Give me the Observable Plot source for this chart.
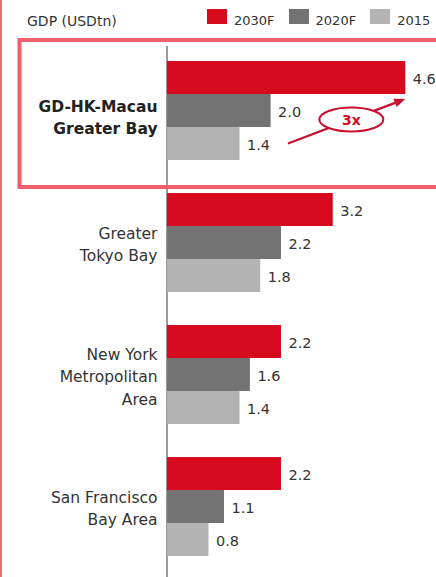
<!DOCTYPE html>
<html><head><meta charset="utf-8">
<script src="https://cdn.jsdelivr.net/npm/d3@7"></script>
<script src="https://cdn.jsdelivr.net/npm/@observablehq/plot@0.6"></script>
<style>
body{margin:0;background:#fff;}
#wrap{position:relative;width:436px;height:577px;overflow:hidden;font-family:"DejaVu Sans",sans-serif;color:#333;background:#fff;}
#edge{position:absolute;left:0;top:0;width:2px;height:577px;background:#e8707c;z-index:2;}
#legend{position:relative;height:34px;}
#legend .title{position:absolute;left:27px;top:14px;font-size:14px;line-height:14px;white-space:nowrap;}
#legend .items{position:absolute;left:207px;top:9px;display:flex;align-items:flex-start;}
#legend .sw{width:20px;height:15px;margin-right:7px;}
#legend .lab{font-size:13px;line-height:13px;margin-top:5px;margin-right:14px;white-space:nowrap;}
#chart svg{display:block;overflow:visible;}
</style></head><body>
<div id="wrap"><div id="edge"></div><div id="legend"></div><div id="chart"></div></div>
<script>
// ---- data ----
const regions = ["GD-HK-Macau\nGreater Bay", "Greater\nTokyo Bay", "New York\nMetropolitan\nArea", "San Francisco\nBay Area"];
const series = ["2030F", "2020F", "2015"];
const gdp2030F = [4.6, 3.2, 2.2, 2.2];
const gdp2020F = [2.0, 2.2, 1.6, 1.1];
const gdp2015 = [1.4, 1.8, 1.4, 0.8];
const seriesColors = ["#d7091d", "#737373", "#b3b3b3"];
const legendTitle = "GDP (USDtn)";
const highlightRegion = regions[0];
const annotationText = "3x";

const valuesBySeries = [gdp2030F, gdp2020F, gdp2015];
const data = regions.flatMap((r, i) => series.map((s, j) => ({region: r, series: s, value: valuesBySeries[j][i]})));

// ---- legend ----
const legend = d3.select("#legend");
legend.append("span").attr("class", "title").text(legendTitle);
const items = legend.append("div").attr("class", "items");
series.forEach((s, j) => {
  items.append("div").attr("class", "sw").style("background", seriesColors[j]);
  items.append("span").attr("class", "lab").text(s);
});

// ---- chart ----
const plot = Plot.plot({
  width: 436,
  height: 543,
  marginLeft: 167,
  marginRight: 10,
  marginTop: 25,
  marginBottom: 18,
  style: {fontFamily: "DejaVu Sans", fontSize: "15px", color: "#333", background: "transparent", overflow: "visible"},
  facet: {data, y: "region"},
  x: {domain: [0, 5], axis: null},
  y: {domain: series, axis: null, padding: 0},
  fy: {domain: regions, axis: null, paddingInner: 0.233, paddingOuter: 0},
  color: {domain: series, range: seriesColors},
  marks: [
    Plot.barX(data, {x: "value", y: "series", fill: "series"}),
    Plot.text(data, {x: "value", y: "series", text: d => d.value.toFixed(1), textAnchor: "start", dx: 7, dy: 1, fontSize: 14.5, fill: "#333"}),
    Plot.text(data, {filter: d => d.series === series[1] && d.region === highlightRegion, x: () => 0, y: "series", text: "region", textAnchor: "end", dx: -10, dy: 5, fontSize: 15.5, fontWeight: "bold", lineHeight: 1.45, fill: "#222"}),
    Plot.text(data, {filter: d => d.series === series[1] && d.region !== highlightRegion, x: () => 0, y: "series", text: "region", textAnchor: "end", dx: -10, fontSize: 15.5, lineHeight: 1.45, fill: "#333"})
  ]
});
document.getElementById("chart").appendChild(plot);

// ---- decorations derived from the scales ----
const sx = plot.scale("x"), sy = plot.scale("y"), sfy = plot.scale("fy");
const svg = d3.select(plot);
const H = 543;
const x0 = sx.apply(0);
const fyTop = sfy.apply(highlightRegion);
const yb = sy.bandwidth;
const yMin = d3.min(sy.range);
const yIn = s => sy.apply(s) - yMin; // position inside a facet
const groupH = sfy.bandwidth ?? yb * series.length;

// axis line under the bars
svg.insert("line", "g").attr("x1", x0).attr("x2", x0).attr("y1", sfy.apply(regions[0]) - 14).attr("y2", H)
  .attr("stroke", "#7a7a7a").attr("stroke-width", 1.5);

// highlight box around first region
svg.append("rect").attr("x", 19.5).attr("y", fyTop - 20).attr("width", 440).attr("height", groupH + 46)
  .attr("fill", "none").attr("stroke", "#f0606a").attr("stroke-width", 4);

// arrow from 2015 level to 2030F level
const i0 = regions.indexOf(highlightRegion);
const xa = sx.apply(gdp2015[i0]) + 48.5;
const ya = fyTop + yIn(series[2]) + yb / 2;
const xb = sx.apply(gdp2030F[i0]);
const yb2 = fyTop + yIn(series[0]) + yb + 5;
const red = "#c8102e";
const ang = Math.atan2(yb2 - ya, xb - xa);
const hl = 11, hw = 4.5;
const bx = xb - hl * Math.cos(ang), by = yb2 - hl * Math.sin(ang);
svg.append("line").attr("x1", xa).attr("y1", ya).attr("x2", bx).attr("y2", by)
  .attr("stroke", red).attr("stroke-width", 2.2);
svg.append("path").attr("d", `M${xb},${yb2}L${bx - hw * Math.sin(ang)},${by + hw * Math.cos(ang)}L${bx + hw * Math.sin(ang)},${by - hw * Math.cos(ang)}Z`)
  .attr("fill", red);
const t = 0.54;
const cx = xa + (xb - xa) * t, cy = ya + (yb2 - ya) * t;
svg.append("ellipse").attr("cx", cx).attr("cy", cy).attr("rx", 32).attr("ry", 12)
  .attr("fill", "#fff").attr("stroke", red).attr("stroke-width", 2);
svg.append("text").attr("x", cx).attr("y", cy).attr("dy", "0.36em").attr("text-anchor", "middle")
  .attr("font-family", "DejaVu Sans").attr("font-weight", "bold").attr("font-size", 14).attr("fill", "#d7091d")
  .text(annotationText);
</script>
</body></html>
